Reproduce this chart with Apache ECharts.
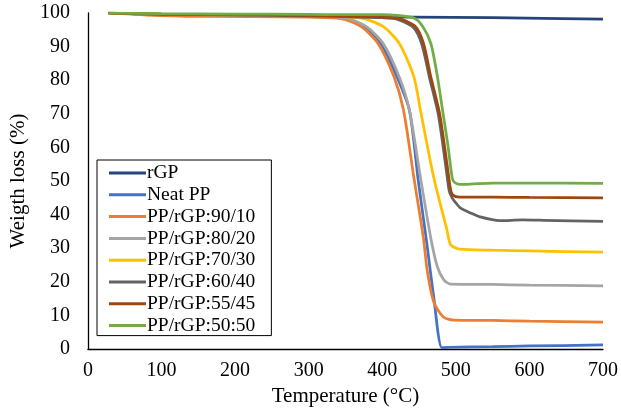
<!DOCTYPE html>
<html>
<head>
<meta charset="utf-8">
<script src="https://cdn.jsdelivr.net/npm/echarts@6/dist/echarts.min.js"></script>
<style>
  html, body { margin: 0; padding: 0; background: #fff; }
  #chart { width: 621px; height: 415px; }
</style>
</head>
<body>
<div id="chart"></div>
<script>
// series names, as in the legend
var names = ['rGP', 'Neat PP', 'PP/rGP:90/10', 'PP/rGP:80/20', 'PP/rGP:70/30',
  'PP/rGP:60/40', 'PP/rGP:55/45', 'PP/rGP:50:50'];
var colors = ['#264478', '#4472C4', '#ED7D31', '#A5A5A5', '#FFC000',
  '#636363', '#9E480E', '#70AD47'];

// temperature (°C) / weight (%)
var rgpT = [28, 100, 200, 300, 440, 550, 700];
var rgpW = [100, 99.5, 99.2, 99.0, 98.8, 98.6, 98.2];

var neatT = [28, 100, 200, 300, 348, 375, 398, 420, 437, 449, 460, 470, 481, 490, 550, 600, 700];
var neatW = [100, 99.5, 99.2, 98.9, 98.4, 96, 91, 81, 71, 50, 32.4, 15.5, 0.4, 0.5, 0.7, 0.9, 1.2];

var pp90T = [28, 80, 150, 300, 344, 371, 394, 416, 429, 443, 456, 461, 470, 483, 497, 550, 600, 700];
var pp90W = [100, 99.4, 99.0, 98.8, 98.3, 96, 91, 81, 71, 51, 33, 23.5, 14, 9.5, 8.6, 8.5, 8.3, 8.0];

var pp80T = [28, 100, 200, 300, 351, 378, 401, 423, 437, 452, 466, 475, 484, 493, 550, 600, 700];
var pp80W = [100, 99.6, 99.4, 99.1, 98.5, 96, 91, 81, 71, 51, 33, 24.4, 20.5, 19.3, 19.2, 19.0, 18.8];

var pp70T = [28, 100, 200, 300, 371, 401, 423, 443, 452, 470, 488, 493, 505, 550, 600, 700];
var pp70W = [100, 99.6, 99.4, 99.2, 98.5, 96, 91, 81, 71, 51, 35.4, 31, 29.7, 29.4, 29.2, 28.8];

var pp60T = [28, 100, 200, 300, 350, 400, 419, 443, 454, 464, 476, 486, 491, 495, 500, 506, 520, 533, 560, 590, 620, 700];
var pp60W = [100, 99.6, 99.4, 99.1, 98.9, 98.6, 98.2, 95.5, 90.5, 81, 70, 55, 47, 45, 43.5, 42, 40.5, 39.3, 38.2, 38.4, 38.3, 38];

var pp55T = [28, 100, 200, 300, 350, 400, 421, 445, 456, 466, 478, 488, 493, 496, 505, 550, 600, 700];
var pp55W = [100, 99.7, 99.5, 99.3, 99.1, 98.8, 98.5, 96, 91, 81, 70, 55, 47.3, 45.8, 45.2, 45.2, 45.1, 45.0];

var pp50T = [28, 100, 200, 300, 350, 400, 420, 443, 455, 466, 475, 482, 489, 495, 498, 505, 520, 550, 600, 700];
var pp50W = [100, 99.8, 99.7, 99.6, 99.5, 99.5, 99.3, 98.5, 96, 91, 81, 71, 61, 51, 49.6, 49.0, 49.1, 49.4, 49.4, 49.3];

var allT = [rgpT, neatT, pp90T, pp80T, pp70T, pp60T, pp55T, pp50T];
var allW = [rgpW, neatW, pp90W, pp80W, pp70W, pp60W, pp55W, pp50W];

var font = "'Liberation Serif', 'Times New Roman', serif";

function pairs(t, w) {
  return t.map(function (v, i) { return [v, w[i]]; });
}

var series = names.map(function (n, i) {
  return {
    name: n,
    type: 'line',
    data: pairs(allT[i], allW[i]),
    symbol: 'none',
    smooth: 0.25,
    lineStyle: { color: colors[i], width: 2.75 },
    itemStyle: { color: colors[i] },
    animation: false
  };
});

var chart = echarts.init(document.getElementById('chart'));
chart.setOption({
  backgroundColor: '#fff',
  grid: { left: 86, right: 18, top: 13, bottom: 66 },
  xAxis: {
    type: 'value',
    min: 0, max: 700, interval: 100,
    name: 'Temperature (°C)',
    nameLocation: 'middle',
    nameGap: 36,
    nameTextStyle: { fontFamily: font, fontSize: 21, color: '#000' },
    axisLine: { lineStyle: { color: '#000', width: 1.3 } },
    axisTick: { show: false },
    splitLine: { show: false },
    axisLabel: { fontFamily: font, fontSize: 20, color: '#000', margin: 12 }
  },
  yAxis: {
    type: 'value',
    min: 0, max: 100, interval: 10,
    name: 'Weigth loss (%)',
    nameLocation: 'middle',
    nameGap: 51,
    nameTextStyle: { fontFamily: font, fontSize: 21, color: '#000' },
    axisLine: { show: true, lineStyle: { color: '#000', width: 1.3 } },
    axisTick: { show: false },
    splitLine: { show: false },
    axisLabel: { fontFamily: font, fontSize: 20, color: '#000', margin: 18 }
  },
  legend: {
    orient: 'vertical',
    left: 97, top: 160,
    padding: [3, 16, 0, 12],
    borderColor: '#000',
    borderWidth: 1,
    backgroundColor: '#fff',
    icon: 'rect',
    itemWidth: 37,
    itemHeight: 3,
    itemGap: 1.8,
    textStyle: { fontFamily: font, fontSize: 19.5, lineHeight: 19.3, color: '#000', padding: [0, 0, 0, -4] },
    data: names
  },
  series: series
});
</script>
</body>
</html>
